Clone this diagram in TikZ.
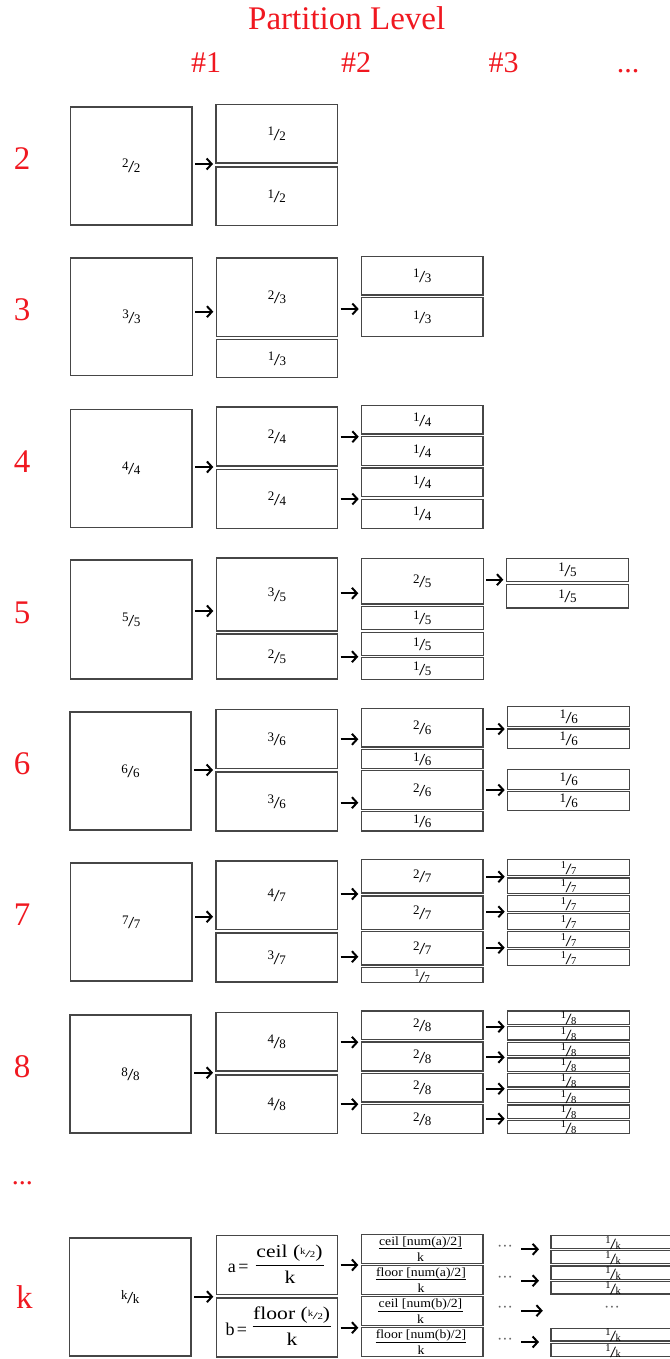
\documentclass[tikz,border=0pt]{standalone}
\usepackage{fontspec}
\setmainfont{Liberation Serif}
\usepackage{graphicx}
\usetikzlibrary{arrows.meta,calc}
\definecolor{lblred}{RGB}{240,24,32}
\definecolor{edgegray}{RGB}{70,70,70}
% small fraction like the 1/2 glyph
\newcommand\ffr[2]{\raisebox{4.5pt}{\fontsize{13}{13}\selectfont #1}\kern-0.5pt{\fontsize{14}{14}\selectfont\scalebox{1.6}[1.2]{/}}\kern-0.5pt{\fontsize{13}{13}\selectfont #2}}
% taller variant for thin boxes
\newcommand\ffrt[2]{\raisebox{5.5pt}{\fontsize{10.5}{10.5}\selectfont #1}\kern-0.5pt\raisebox{-0.5pt}{\fontsize{12}{12}\selectfont\scalebox{1.8}[1.3]{/}}\kern-0.5pt\raisebox{-0.5pt}{\fontsize{10.5}{10.5}\selectfont #2}}
% fraction inside the k-row formula
\newcommand\ffrs[2]{\raisebox{3pt}{\fontsize{9}{9}\selectfont #1}\kern-0.4pt{\fontsize{10}{10}\selectfont\scalebox{1.6}[1]{/}}\kern-0.4pt{\fontsize{9}{9}\selectfont #2}}
\newcommand\bxx[6]{\node[bx,minimum width={(#4-#2)*1pt},minimum height={(#5-#3)*1pt},label={[fl]center:#6}] (#1) at ({(#2+#4)/2},{(#3+#5)/2}) {};}
\newcommand\arrowto[3]{\draw[arw] ($(#1.east|-0,#3)+(3,0)$) -- ($(#2.west|-0,#3)+(-3,0)$);}
\begin{document}
\begin{tikzpicture}[x=1pt,y=-1pt,
 bx/.style={draw=edgegray,line width=1.3pt,inner sep=0pt,outer sep=0pt},
 fl/.style={inner sep=0pt,text height=13pt,text depth=0pt,font=\fontsize{12}{12}\selectfont,text=black},
 arw/.style={draw=black,line width=2pt,-{Straight Barb[length=5pt,width=11pt]}},
 lbl/.style={text=lblred,font=\fontsize{33}{33}\selectfont,inner sep=0pt,anchor=base},
 hd/.style={text=lblred,font=\fontsize{30}{30}\selectfont,inner sep=0pt,anchor=base},
 ft/.style={inner sep=0pt,font=\fontsize{18}{18}\selectfont,anchor=base},
 fs/.style={inner sep=0pt,font=\fontsize{12.5}{12.5}\selectfont,anchor=base},
 fbar/.style={draw=black,line width=0.9pt},
 dotsty/.style={inner sep=0pt,text=black!60,font=\fontsize{16}{16}\selectfont}]
\useasboundingbox (0,0) rectangle (669,1359);
% header
\node[hd,font=\fontsize{33}{33}\selectfont] (title) at (346.7,29.3) {Partition Level};
\node[hd] (h1) at (206,72.7) {\#1};
\node[hd] (h2) at (356,72.7) {\#2};
\node[hd] (h3) at (503.6,72.7) {\#3};
\node[hd] (h4) at (628,72.7) {...};
% row labels
\node[lbl] (l2) at (22,169.5) {2};
\node[lbl] (l3) at (22,320) {3};
\node[lbl] (l4) at (22,472) {4};
\node[lbl] (l5) at (22,623) {5};
\node[lbl] (l6) at (22,774.5) {6};
\node[lbl] (l7) at (22,925.5) {7};
\node[lbl] (l8) at (22,1077.5) {8};
\node[lbl,font=\fontsize{28}{28}\selectfont] (ldots) at (22.5,1184) {...};
\node[lbl] (lk) at (24.5,1308) {k};
% row 2
\bxx{b2}{70.5}{107}{192}{225}{\ffr22}
\bxx{r2a}{216}{104.5}{337.7}{163}{\ffr12}
\bxx{r2b}{216}{167}{337.7}{225.3}{\ffr12}
\arrowto{b2}{r2a}{164}
% row 3
\bxx{b3}{70.5}{258}{192.3}{375.7}{\ffr33}
\bxx{r3a}{216.3}{258}{337.7}{336.3}{\ffr23}
\bxx{r3b}{216.3}{339.3}{337.7}{377.7}{\ffr13}
\bxx{r3c}{361.7}{256.7}{483}{295}{\ffr13}
\bxx{r3d}{361.7}{297.7}{483}{336.3}{\ffr13}
\arrowto{b3}{r3a}{311.7}
\arrowto{r3a}{r3c}{309}
% row 4
\bxx{b4}{70.5}{409.3}{192}{527.3}{\ffr44}
\bxx{r4a}{216.3}{407}{337.7}{466}{\ffr24}
\bxx{r4b}{216.3}{469.3}{337.7}{528.3}{\ffr24}
\bxx{r4c}{361.7}{405.7}{483}{434}{\ffr14}
\bxx{r4d}{361.7}{436.7}{483}{465.7}{\ffr14}
\bxx{r4e}{361.7}{468}{483}{496.7}{\ffr14}
\bxx{r4f}{361.7}{499.3}{483}{528.3}{\ffr14}
\arrowto{b4}{r4a}{467}
\arrowto{r4a}{r4c}{436.7}
\arrowto{r4b}{r4e}{499}
% row 5
\bxx{b5}{70.5}{560}{192}{679}{\ffr55}
\bxx{r5a}{216.3}{558}{337.7}{631}{\ffr35}
\bxx{r5b}{216.3}{634}{337.7}{679}{\ffr25}
\bxx{r5c}{361.3}{558.3}{483.3}{604}{\ffr25}
\bxx{r5d}{361.3}{606.3}{483.3}{629.3}{\ffr15}
\bxx{r5e}{361.3}{632.7}{483.3}{655.7}{\ffr15}
\bxx{r5f}{361.3}{657.7}{483.3}{679.5}{\ffr15}
\bxx{r5g}{506.3}{558.3}{628.7}{581.3}{\ffr15}
\bxx{r5h}{506.3}{584.7}{628.7}{608}{\ffr15}
\arrowto{b5}{r5a}{611}
\arrowto{r5a}{r5c}{593.3}
\arrowto{r5b}{r5e}{656.7}
\arrowto{r5c}{r5g}{579.7}
% row 6
\bxx{b6}{70}{712}{191}{830}{\ffr66}
\bxx{r6a}{216}{709.3}{337.7}{768.7}{\ffr36}
\bxx{r6b}{216}{772}{337.7}{831}{\ffr36}
\bxx{r6c}{361.3}{708.3}{483}{747}{\ffr26}
\bxx{r6d}{361.3}{749.3}{483}{768.7}{\ffr16}
\bxx{r6e}{361.3}{770.7}{483}{809.3}{\ffr26}
\bxx{r6f}{361.3}{811.7}{483}{831}{\ffr16}
\bxx{r6g}{507.7}{706.7}{629.7}{726.3}{\ffr16}
\bxx{r6h}{507.7}{729}{629.7}{748.3}{\ffr16}
\bxx{r6i}{507.7}{769.3}{629.7}{789.3}{\ffr16}
\bxx{r6j}{507.7}{791.3}{629.7}{810.3}{\ffr16}
\arrowto{b6}{r6a}{770}
\arrowto{r6a}{r6c}{739.3}
\arrowto{r6b}{r6e}{802.7}
\arrowto{r6c}{r6g}{729}
\arrowto{r6e}{r6i}{790}
% row 7
\bxx{b7}{70.5}{863}{192}{981}{\ffr77}
\bxx{r7a}{216}{861}{337.7}{929.3}{\ffr47}
\bxx{r7b}{216}{933}{337.7}{982}{\ffr37}
\bxx{r7c}{361.3}{859.7}{483}{893}{\ffr27}
\bxx{r7d}{361.3}{896}{483}{929.3}{\ffr27}
\bxx{r7e}{361.3}{931.7}{483}{965}{\ffr27}
\bxx{r7f}{361.3}{967.7}{483}{982.7}{\ffrt17}
\bxx{r7g}{507.7}{859.7}{629.7}{875.3}{\ffrt17}
\bxx{r7h}{507.7}{878}{629.7}{893.3}{\ffrt17}
\bxx{r7i}{507.7}{895.7}{629.7}{911.3}{\ffrt17}
\bxx{r7j}{507.7}{913.7}{629.7}{929.3}{\ffrt17}
\bxx{r7k}{507.7}{931.7}{629.7}{947.3}{\ffrt17}
\bxx{r7l}{507.7}{949.7}{629.7}{965.3}{\ffrt17}
\arrowto{b7}{r7a}{916.7}
\arrowto{r7a}{r7c}{894}
\arrowto{r7b}{r7e}{956.7}
\arrowto{r7c}{r7g}{876.7}
\arrowto{r7d}{r7i}{911.7}
\arrowto{r7e}{r7k}{947.7}
% row 8
\bxx{b8}{70}{1015}{191}{1133}{\ffr88}
\bxx{r8a}{216}{1012.3}{337.7}{1071}{\ffr48}
\bxx{r8b}{216}{1075}{337.7}{1133.3}{\ffr48}
\bxx{r8c}{361.3}{1011}{483}{1039.7}{\ffr28}
\bxx{r8d}{361.3}{1042}{483}{1071}{\ffr28}
\bxx{r8e}{361.3}{1073.3}{483}{1102}{\ffr28}
\bxx{r8f}{361.3}{1104.7}{483}{1133.3}{\ffr28}
\bxx{r8g}{507.7}{1011}{629.7}{1024.3}{\ffrt18}
\bxx{r8h}{507.7}{1026.7}{629.7}{1040}{\ffrt18}
\bxx{r8i}{507.7}{1042.3}{629.7}{1055.7}{\ffrt18}
\bxx{r8j}{507.7}{1058}{629.7}{1071.3}{\ffrt18}
\bxx{r8k}{507.7}{1073.7}{629.7}{1087}{\ffrt18}
\bxx{r8l}{507.7}{1089.3}{629.7}{1102.7}{\ffrt18}
\bxx{r8m}{507.7}{1105}{629.7}{1118.3}{\ffrt18}
\bxx{r8n}{507.7}{1120.3}{629.7}{1133.3}{\ffrt18}
\arrowto{b8}{r8a}{1072.7}
\arrowto{r8a}{r8c}{1042.3}
\arrowto{r8b}{r8e}{1104.3}
\arrowto{r8c}{r8g}{1026.7}
\arrowto{r8d}{r8i}{1057.3}
\arrowto{r8e}{r8k}{1088.7}
\arrowto{r8f}{r8m}{1118.7}
% row k
\bxx{bk}{69.5}{1238}{191}{1356}{\ffr kk}
\bxx{rka}{216.3}{1235.7}{337.7}{1294.7}{}
\bxx{rkb}{216.3}{1298}{337.7}{1357}{}
\bxx{rkc}{361.3}{1234.3}{483}{1263.3}{}
\bxx{rkd}{361.3}{1265.3}{483}{1294.3}{}
\bxx{rke}{361.3}{1296.7}{483}{1325.3}{}
\bxx{rkf}{361.3}{1327.7}{483}{1356.7}{}
\bxx{rkg}{551}{1235.7}{675}{1248.3}{\ffrt1k}
\bxx{rkh}{551}{1250.7}{675}{1263.3}{\ffrt1k}
\bxx{rki}{551}{1266}{675}{1279.3}{\ffrt1k}
\bxx{rkj}{551}{1281.3}{675}{1294}{\ffrt1k}
\bxx{rkk}{551}{1328.3}{675}{1341}{\ffrt1k}
\bxx{rkl}{551}{1343.7}{675}{1356.7}{\ffrt1k}
\node[dotsty] (kd) at (612,1309.3) {···};
\arrowto{bk}{rka}{1296.7}
\arrowto{rka}{rkc}{1265}
\arrowto{rkb}{rke}{1327.7}
% formula a
\node[ft,anchor=base west] (fa1) at (227.7,1272.3) {a\kern2.5pt=};
\node[ft] (fa2) at (289.5,1257.5) {\scalebox{1.2}[1]{ceil (\ffrs{k}{2})}};
\draw[fbar] ([xshift=-0.5pt]fa2.west|-0,1265.7) -- ([xshift=1.5pt]fa2.east|-0,1265.7);
\node[ft] (fa3) at (290,1283.3) {\scalebox{1.2}[1]{k}};
% formula b
\node[ft,anchor=base west] (fb1) at (225.3,1335) {b\kern2.5pt=};
\node[ft] (fb2) at (291.7,1319.5) {\scalebox{1.2}[1]{floor (\ffrs{k}{2})}};
\draw[fbar] ([xshift=-0.5pt]fb2.west|-0,1326.7) -- ([xshift=1pt]fb2.east|-0,1326.7);
\node[ft] (fb3) at (292,1345.5) {\scalebox{1.2}[1]{k}};
% column 2 formulas
\node[fs] (fc1) at (420.5,1245.3) {\scalebox{1.1}[1]{ceil [num(a)/2]}};
\draw[fbar,line width=0.7pt] (fc1.west|-0,1248.8) -- (fc1.east|-0,1248.8);
\node[fs] (fc2) at (420.5,1261.1) {\scalebox{1.1}[1]{k}};
\node[fs] (fd1) at (421,1276.3) {\scalebox{1.1}[1]{floor [num(a)/2]}};
\draw[fbar,line width=0.7pt] (fd1.west|-0,1279.8) -- (fd1.east|-0,1279.8);
\node[fs] (fd2) at (421,1292.1) {\scalebox{1.1}[1]{k}};
\node[fs] (fe1) at (420.5,1307.7) {\scalebox{1.1}[1]{ceil [num(b)/2]}};
\draw[fbar,line width=0.7pt] (fe1.west|-0,1311.2) -- (fe1.east|-0,1311.2);
\node[fs] (fe2) at (420.5,1323.5) {\scalebox{1.1}[1]{k}};
\node[fs] (ff1) at (421,1338.7) {\scalebox{1.1}[1]{floor [num(b)/2]}};
\draw[fbar,line width=0.7pt] (ff1.west|-0,1342.2) -- (ff1.east|-0,1342.2);
\node[fs] (ff2) at (421,1354.5) {\scalebox{1.1}[1]{k}};
% dots and arrows to column 3
\node[dotsty] (d1) at (505,1248.3) {···};
\node[dotsty] (d2) at (505,1279.3) {···};
\node[dotsty] (d3) at (505,1309.3) {···};
\node[dotsty] (d4) at (505,1341.7) {···};
\draw[arw] ($(d1.east|-0,1249.3)+(8,0)$) -- ($(rkg.west|-0,1249.3)+(-12,0)$);
\draw[arw] ($(d2.east|-0,1280.7)+(8,0)$) -- ($(rki.west|-0,1280.7)+(-12,0)$);
\draw[arw] ($(d3.east|-0,1310.7)+(8,0)$) -- ($(kd.west|-0,1310.7)+(-61,0)$);
\draw[arw] ($(d4.east|-0,1342)+(8,0)$) -- ($(rkk.west|-0,1342)+(-12,0)$);
\end{tikzpicture}
\end{document}
